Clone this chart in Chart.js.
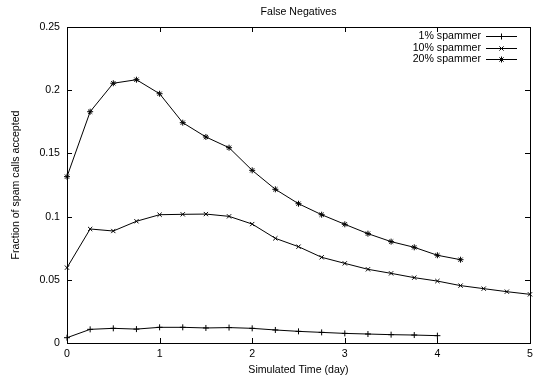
<!DOCTYPE html>
<html>
<head>
<meta charset="utf-8">
<script src="https://cdn.jsdelivr.net/npm/chart.js@4/dist/chart.umd.min.js"></script>
<style>
  html, body { margin: 0; padding: 0; background: #fff; }
  #wrap { width: 542px; height: 377px; }
</style>
</head>
<body>
<div id="wrap"><canvas id="chart" width="542" height="377"></canvas></div>
<script>
// simulated time, in days
var days = [0, 0.25, 0.5, 0.75, 1, 1.25, 1.5, 1.75, 2, 2.25, 2.5, 2.75, 3, 3.25, 3.5, 3.75, 4, 4.25, 4.5, 4.75, 5];

var seriesLabels = ['1% spammer', '10% spammer', '20% spammer'];
var pointStyles = ['cross', 'crossRot', 'star'];

// fraction of spam calls accepted
var spam1 = [0.0042, 0.0108, 0.0116, 0.0110, 0.0124, 0.0124, 0.0119, 0.0122, 0.0116, 0.0103, 0.0092, 0.0084, 0.0076, 0.0071, 0.0066, 0.0063, 0.0058];
var spam10 = [0.0596, 0.0902, 0.0886, 0.0963, 0.1015, 0.1018, 0.1020, 0.1002, 0.0941, 0.0828, 0.0762, 0.0678, 0.0630, 0.0583, 0.0551, 0.0517, 0.0490, 0.0454, 0.0430, 0.0406, 0.0385];
var spam20 = [0.1316, 0.1830, 0.2055, 0.2083, 0.1972, 0.1743, 0.1630, 0.1545, 0.1366, 0.1216, 0.1102, 0.1015, 0.0939, 0.0865, 0.0802, 0.0757, 0.0694, 0.0659];

var xTicks = [0, 1, 2, 3, 4, 5];
var yTicks = [0, 0.05, 0.1, 0.15, 0.2, 0.25];

var chartTitle = 'False Negatives';

var FONT = 'Liberation Sans, Arial, sans-serif';
var FSIZE = 10.6;

function toPoints(values)
{
  return values.map(function(v, i) { return {x: days[i], y: v}; });
}

var allSeries = [spam1, spam10, spam20];
var datasets = allSeries.map(function(values, i)
{
  return {
    label: seriesLabels[i],
    data: toPoints(values),
    borderColor: '#000',
    borderWidth: 1,
    backgroundColor: '#000',
    pointStyle: pointStyles[i],
    pointRadius: 3,
    pointBorderWidth: 1,
    pointBorderColor: '#000',
    pointHoverRadius: 3,
    tension: 0,
    clip: false
  };
});

// gnuplot style frame with inward ticks on all four sides, plus title and key
var framePlugin = {
  id: 'frame',
  afterDatasetsDraw: function(chart)
  {
    var ctx = chart.ctx;
    var a = chart.chartArea;
    var xs = chart.scales.x, ys = chart.scales.y;
    var tl = 5;
    ctx.save();
    ctx.strokeStyle = '#000';
    ctx.lineWidth = 1;
    ctx.beginPath();
    xTicks.forEach(function(t)
    {
      var px = Math.round(xs.getPixelForValue(t)) + 0.5;
      ctx.moveTo(px, a.bottom); ctx.lineTo(px, a.bottom - tl);
      ctx.moveTo(px, a.top); ctx.lineTo(px, a.top + tl);
    });
    yTicks.forEach(function(t)
    {
      var py = Math.round(ys.getPixelForValue(t)) + 0.5;
      ctx.moveTo(a.left, py); ctx.lineTo(a.left + tl, py);
      ctx.moveTo(a.right, py); ctx.lineTo(a.right - tl, py);
    });
    ctx.stroke();
    ctx.strokeRect(Math.round(a.left) + 0.5, Math.round(a.top) + 0.5, Math.round(a.right - a.left), Math.round(a.bottom - a.top));

    ctx.font = FSIZE + 'px ' + FONT;
    ctx.fillStyle = '#000';

    // title, centred over the plot
    ctx.textAlign = 'center';
    ctx.textBaseline = 'alphabetic';
    ctx.fillText(chartTitle, (a.left + a.right) / 2, 14.5);

    // key, top right inside the frame
    ctx.textAlign = 'right';
    ctx.textBaseline = 'middle';
    chart.data.datasets.forEach(function(ds, i)
    {
      var y = 36 + i * 11.7;
      ctx.fillText(ds.label, 481, y);
      ctx.beginPath();
      ctx.moveTo(486, Math.round(y) + 0.5);
      ctx.lineTo(517, Math.round(y) + 0.5);
      ctx.stroke();
      Chart.helpers.drawPoint(ctx, {pointStyle: ds.pointStyle, radius: 3, borderWidth: 1, rotation: 0}, 501.5, Math.round(y) + 0.5);
    });
    ctx.restore();
  }
};

new Chart(document.getElementById('chart'), {
  type: 'line',
  data: {datasets: datasets},
  plugins: [framePlugin],
  options: {
    responsive: false,
    animation: false,
    events: [],
    layout: {padding: {left: 0, right: 12, top: 27, bottom: 0}},
    plugins: {
      legend: {display: false},
      tooltip: {enabled: false},
      title: {display: false}
    },
    scales: {
      x: {
        type: 'linear',
        min: 0, max: 5,
        grid: {display: false, drawTicks: false},
        border: {display: false},
        afterFit: function(s) { s.height = 34; },
        afterBuildTicks: function(s) { s.ticks = xTicks.map(function(v) { return {value: v}; }); },
        ticks: {color: '#000', padding: 5, maxRotation: 0, font: {family: FONT, size: FSIZE}, callback: function(v) { return String(v); }},
        title: {display: true, text: 'Simulated Time (day)', color: '#000', padding: {top: 0, bottom: 1}, font: {family: FONT, size: FSIZE}}
      },
      y: {
        min: 0, max: 0.25,
        grid: {display: false, drawTicks: false},
        border: {display: false},
        afterFit: function(s) { s.width = 67; },
        afterBuildTicks: function(s) { s.ticks = yTicks.map(function(v) { return {value: v}; }); },
        ticks: {color: '#000', padding: 7, font: {family: FONT, size: FSIZE}, callback: function(v) { return String(v); }},
        title: {display: true, text: 'Fraction of spam calls accepted', color: '#000', padding: {top: 10, bottom: 0}, font: {family: FONT, size: FSIZE}}
      }
    }
  }
});
</script>
</body>
</html>
